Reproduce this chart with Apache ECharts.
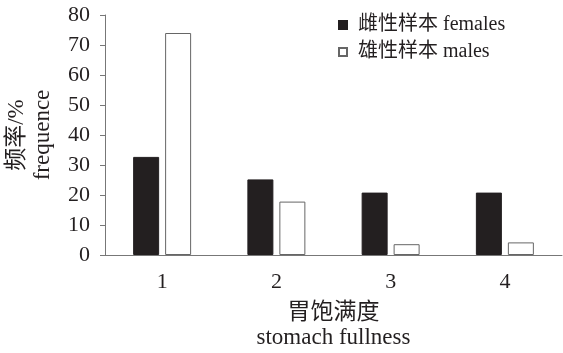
<!DOCTYPE html>
<html><head><meta charset="utf-8">
<script src="https://cdn.jsdelivr.net/npm/echarts@6/dist/echarts.min.js"></script>
<style>html,body{margin:0;padding:0;background:#fff}#c{width:563px;height:353px}</style>
</head><body><div id="c"></div>
<script>
const categories = ['1', '2', '3', '4'];
const females = [32.7, 25.2, 20.8, 20.8];
const males = [74, 17.8, 3.6, 4.2];
const yTicks = [0, 10, 20, 30, 40, 50, 60, 70, 80];
const seriesNames = ['雌性样本 females', '雄性样本 males'];

const font = '"Liberation Serif", "Times New Roman", "Noto Sans CJK SC", serif';
const chart = echarts.init(document.getElementById('c'));
chart.setOption({
  animation: false,
  backgroundColor: '#fff',
  textStyle: { fontFamily: font, color: '#231f20' },
  grid: { left: 105, right: 1, top: 15, bottom: 98, outerBoundsMode: 'none', containLabel: false },
  legend: {
    orient: 'vertical', left: 333, top: 10, itemGap: 7, padding: 5,
    itemWidth: 8, itemHeight: 8, icon: 'rect',
    textStyle: { fontFamily: font, fontSize: 20, color: '#231f20', padding: [0, 0, 0, 6] },
    data: seriesNames
  },
  xAxis: {
    type: 'category', data: categories,
    name: '胃饱满度\nstomach fullness', nameLocation: 'middle', nameGap: 45,
    nameTextStyle: { fontFamily: font, fontSize: 23, color: '#231f20', lineHeight: 25, verticalAlign: 'top' },
    axisLine: { lineStyle: { color: '#777', width: 1 } },
    axisTick: { inside: true, length: 4, lineStyle: { color: '#777' } },
    axisLabel: { fontFamily: font, fontSize: 22, color: '#231f20', margin: 16 }
  },
  yAxis: {
    type: 'value', min: 0, max: 80, interval: 10,
    name: '频率/%\nfrequence', nameLocation: 'middle', nameGap: 49, nameRotate: 90,
    nameTextStyle: { fontFamily: font, fontSize: 23, color: '#231f20', lineHeight: 26 },
    splitLine: { show: false },
    axisLine: { show: true, lineStyle: { color: '#777', width: 1 } },
    axisTick: { show: true, length: 5, lineStyle: { color: '#777' } },
    axisLabel: { fontFamily: font, fontSize: 22, color: '#231f20', margin: 15,
      formatter: v => yTicks.includes(v) ? String(v) : '' }
  },
  series: [
    { name: seriesNames[0], type: 'bar', data: females, barWidth: 26, barGap: '23%',
      itemStyle: { color: '#231f20', borderColor: '#231f20', borderWidth: 1 } },
    { name: seriesNames[1], type: 'bar', data: males, barWidth: 26,
      itemStyle: { color: '#fff', borderColor: '#666', borderWidth: 1 } }
  ]
});
</script></body></html>
